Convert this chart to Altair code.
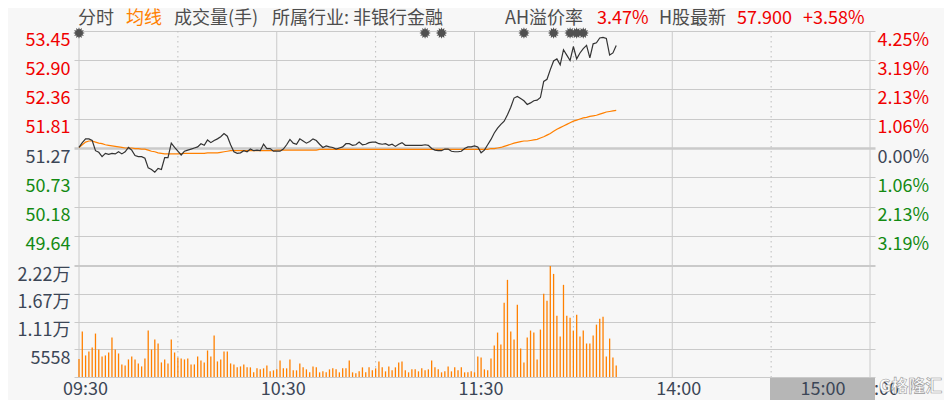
import json
import math
import altair as alt
import pandas as pd

# ---------------- data ----------------
prev_close = 51.27

price = [
    51.28, 51.37, 51.44, 51.44, 51.41, 51.22, 51.19, 51.11, 51.17, 51.15,
    51.17, 51.16, 51.20, 51.16, 51.20, 51.28, 51.23, 51.13, 51.11, 51.11,
    51.08, 50.90, 50.87, 50.82, 50.89, 50.87, 51.09, 51.09, 51.36, 51.28,
    51.21, 51.14, 51.21, 51.23, 51.25, 51.27, 51.29, 51.35, 51.32, 51.42,
    51.37, 51.41, 51.44, 51.48, 51.54, 51.49, 51.33, 51.20, 51.17, 51.18,
    51.22, 51.20, 51.25, 51.22, 51.23, 51.22, 51.34, 51.26, 51.26, 51.21,
    51.21, 51.21, 51.25, 51.33, 51.43, 51.36, 51.34, 51.44, 51.40, 51.36,
    51.39, 51.44, 51.41, 51.34, 51.28, 51.31, 51.29, 51.28, 51.25, 51.27,
    51.29, 51.35, 51.35, 51.32, 51.33, 51.38, 51.33, 51.34, 51.37, 51.38,
    51.38, 51.35, 51.34, 51.35, 51.32, 51.34, 51.30, 51.34, 51.37, 51.32,
    51.32, 51.32, 51.32, 51.32, 51.32, 51.33, 51.32, 51.26, 51.23, 51.22,
    51.22, 51.25, 51.25, 51.21, 51.20, 51.20, 51.21, 51.26, 51.29, 51.29,
    51.31, 51.29, 51.18, 51.23, 51.33, 51.43, 51.55, 51.64, 51.71, 51.77,
    51.89, 52.03, 52.20, 52.23, 52.19, 52.15, 52.08, 52.11, 52.15, 52.16,
    52.21, 52.51, 52.55, 52.73, 52.89, 52.93, 52.82, 53.10, 53.00, 52.90,
    53.16, 52.93, 53.04, 53.12, 53.18, 52.95, 53.21, 53.23, 53.32, 53.33,
    53.31, 53.00, 53.04, 53.18,
]

avg = [
    51.28, 51.33, 51.38, 51.40, 51.40, 51.38, 51.36, 51.35, 51.33, 51.32,
    51.31, 51.30, 51.29, 51.28, 51.27, 51.27, 51.27, 51.26, 51.26, 51.25,
    51.25, 51.23, 51.21, 51.20, 51.18, 51.17, 51.16, 51.16, 51.16, 51.16,
    51.16, 51.165, 51.17, 51.17, 51.17, 51.17, 51.17, 51.17, 51.17, 51.18,
    51.18, 51.18, 51.18, 51.19, 51.20, 51.21, 51.22, 51.22, 51.22, 51.22,
    51.22, 51.22, 51.22, 51.22, 51.22, 51.22, 51.22, 51.22, 51.22, 51.22,
    51.23, 51.23, 51.23, 51.23, 51.23, 51.23, 51.23, 51.23, 51.23, 51.23,
    51.23, 51.23, 51.23, 51.245, 51.245, 51.245, 51.245, 51.245, 51.245, 51.245,
    51.245, 51.245, 51.245, 51.245, 51.245, 51.245, 51.245, 51.245, 51.245, 51.245,
    51.245, 51.245, 51.245, 51.245, 51.245, 51.245, 51.245, 51.245, 51.245, 51.245,
    51.245, 51.245, 51.245, 51.245, 51.245, 51.245, 51.245, 51.245, 51.245, 51.245,
    51.245, 51.245, 51.245, 51.245, 51.245, 51.245, 51.245, 51.245, 51.245, 51.245,
    51.245, 51.245, 51.245, 51.245, 51.245, 51.26, 51.26, 51.27, 51.28, 51.30,
    51.32, 51.34, 51.36, 51.376, 51.39, 51.40, 51.40, 51.41, 51.42, 51.43,
    51.456, 51.48, 51.51, 51.54, 51.58, 51.62, 51.65, 51.68, 51.71, 51.74,
    51.77, 51.79, 51.81, 51.83, 51.84, 51.86, 51.87, 51.88, 51.90, 51.92,
    51.94, 51.95, 51.96, 51.97,
]

volume = [
    3590, 9100, 4320, 5110, 5910, 8700, 5510, 4120, 4320, 4910,
    7900, 5510, 4710, 2520, 2320, 3520, 4120, 3520, 2720, 2120,
    3720, 9300, 5510, 7500, 6700, 2920, 3520, 2720, 7500, 4910,
    3920, 3720, 3520, 3720, 2520, 2520, 4120, 3320, 2920, 5310,
    4120, 8300, 3120, 3520, 5110, 5110, 2720, 2520, 1930, 2120,
    2520, 1930, 1930, 930, 1730, 1530, 1730, 2320, 1130, 1330,
    1530, 3320, 1730, 1730, 3520, 1330, 1330, 2720, 1930, 1530,
    930, 2120, 1930, 930, 1130, 930, 1530, 1730, 1530, 930,
    1730, 1730, 3320, 930, 730, 1130, 1930, 930, 1930, 1330,
    1730, 3120, 1930, 1130, 2120, 1330, 1930, 2920, 3120, 1330,
    930, 1530, 1530, 1130, 1730, 1330, 1530, 3320, 1930, 1530,
    930, 1130, 2120, 1130, 1930, 1330, 1930, 930, 930, 1130,
    930, 4120, 3920, 1530, 1330, 3720, 6310, 8900, 6510, 14870,
    19460, 9100, 7500, 14480, 5710, 2920, 7900, 9300, 8900, 3520,
    9500, 16670, 15270, 22232, 20650, 12280, 8100, 18460, 12280, 11890,
    9300, 12480, 8100, 9300, 6710, 6710, 8300, 10490, 11690, 12090,
    4120, 7700, 3920, 2320,
]

event_idx = [0, 105, 110, 135, 144, 149, 151, 153]

price_ticks = [53.449, 52.904, 52.360, 51.815, 51.270, 50.725, 50.179, 49.636, 49.091]
volume_ticks = [22232, 16674, 11116, 5558, 0]
time_ticks = [0, 60, 120, 180, 240]
time_labels = ["09:30", "10:30", "11:30", "14:00", "15:00"]
grid_solid = [0, 60, 120, 180, 240]
grid_dotted = [30, 90, 150, 210]

header_texts = ["分时", "均线", "成交量(手)", "所属行业: 非银行金融",
                "AH溢价率", "3.47%", "H股最新", "57.900", "+3.58%"]

# ---------------- styling ----------------
W, H = 801, 346
FONT = "Noto Sans CJK SC"
FS = 18
RED = "#f00000"
GREEN = "#138a13"
NEUTRAL = "#3c4656"
GREYTXT = "#4d4d4d"
ORANGE = "#ff8000"
DARK = "#333333"
GRID = "#cacaca"
BG = "#f7f7f7"

df = pd.DataFrame({"idx": list(range(len(price))), "price": price,
                   "avg": avg, "volume": volume})

xscale = alt.Scale(domain=[0, 240], range=[0, W], nice=False, zero=False)
xaxis = alt.Axis(values=time_ticks,
                 labelExpr=f"{json.dumps(time_labels)}[indexof({json.dumps(time_ticks)}, datum.value)]",
                 grid=False, domain=False, ticks=False, tickSize=0,
                 labelFont=FONT, labelFontSize=FS, labelColor=NEUTRAL,
                 labelPadding=3, labelOffset=6, labelFlush=False,
                 labelOverlap=False, title=None)
X = alt.X("idx:Q", scale=xscale, axis=xaxis)

price_scale = alt.Scale(domain=[price_ticks[-1], price_ticks[0]], range=[234, 0],
                        nice=False, zero=False)
vol_scale = alt.Scale(domain=[0, volume_ticks[0]], range=[346, 235], nice=False, zero=False)

color_cond = {"condition": [{"test": f"datum.value > {prev_close + 0.01}", "value": RED},
                            {"test": f"datum.value < {prev_close - 0.01}", "value": GREEN}],
              "value": NEUTRAL}

price_axis = alt.Axis(orient="left", values=price_ticks,
                      labelExpr="datum.value < 49.2 ? '' : format(datum.value, '.2f')",
                      grid=True, gridColor=GRID,
                      gridWidth={"condition": {"test": f"abs(datum.value - {prev_close}) < 0.001",
                                               "value": 2.5}, "value": 1},
                      domain=False, ticks=False, tickSize=0,
                      labelFont=FONT, labelFontSize=FS, labelColor=color_cond,
                      labelAlign="right", labelBaseline="top", labelPadding=4,
                      labelFlush=False, labelOverlap=False, title=None)

pct_axis = alt.Axis(orient="right", values=price_ticks[:-1],
                    labelExpr=f"format(abs(datum.value / {prev_close} - 1) * 100, '.2f') + '%'",
                    grid=False, domain=False, ticks=False, tickSize=0,
                    labelFont=FONT, labelFontSize=FS, labelColor=color_cond,
                    labelAlign="left", labelBaseline="top", labelPadding=2,
                    labelFlush=False, labelOverlap=False, title=None)

vol_axis = alt.Axis(orient="left", values=volume_ticks,
                    labelExpr="datum.value == 0 ? '' : (datum.value >= 10000 ? format(datum.value / 10000, '.2f') + '万' : format(datum.value, 'd'))",
                    grid=True, gridColor=GRID, gridWidth=1,
                    domain=False, ticks=False, tickSize=0,
                    labelFont=FONT, labelFontSize=FS, labelColor=NEUTRAL,
                    labelAlign="right", labelBaseline="top", labelPadding=4,
                    labelFlush=False, labelOverlap=False, title=None)

# vertical grid lines
vsolid = alt.Chart(pd.DataFrame({"idx": grid_solid})).mark_rule(
    color=GRID, strokeWidth=1).encode(x=X)
vdotted = alt.Chart(pd.DataFrame({"idx": grid_dotted})).mark_rule(
    color="#bdbdbd", strokeWidth=1, strokeDash=[1.5, 3.5]).encode(x=X)

base = alt.Chart(df)

lines = base.transform_fold(["avg", "price"], as_=["key", "value"]).mark_line(
    strokeWidth=1.2, interpolate="linear").encode(
    x=X,
    y=alt.Y("value:Q", scale=price_scale, axis=price_axis),
    color=alt.Color("key:N", scale=alt.Scale(domain=["avg", "price"], range=[ORANGE, DARK]),
                    legend=None),
)

pct = base.mark_line(opacity=0).encode(
    x=X, y=alt.Y("price:Q", scale=price_scale, axis=pct_axis))

bars = base.mark_bar(size=1.3, color=ORANGE).encode(
    x=X, y=alt.Y("volume:Q", scale=vol_scale, axis=vol_axis))

# event star markers along the top
pts = []
for k in range(24):
    r = 1.0 if k % 2 == 0 else 0.62
    a = math.pi * k / 12
    pts.append(f"{r * math.cos(a):.3f},{r * math.sin(a):.3f}")
STAR = "M" + " L".join(pts) + " Z"
stars = alt.Chart(pd.DataFrame({"idx": event_idx})).mark_point(
    shape=STAR, filled=True, size=130, color="#505050", opacity=1).encode(
    x=X, y=alt.value(2))

one = alt.Data(values=[{}])


def label(text, x, y, color, align="left", size=FS):
    return alt.Chart(one).mark_text(
        text=text, align=align, baseline="middle", font=FONT, fontSize=size,
        color=color).encode(x=alt.value(x), y=alt.value(y))


header_x = [4, 52, 100, 198, 431, 523, 585, 663, 729]
header_c = [GREYTXT, ORANGE, GREYTXT, GREYTXT, GREYTXT, RED, GREYTXT, RED, RED]
headers = [label(t, x, -12, c) for t, x, c in zip(header_texts, header_x, header_c)]

# highlighted end-time box and watermark
box = alt.Chart(one).mark_rect(color="#b6b6b6").encode(
    x=alt.value(696), x2=alt.value(801), y=alt.value(347), y2=alt.value(380))
box_text = label(time_labels[-1], 749, 359, NEUTRAL, align="center")
wm = alt.Chart(one).mark_text(
    text="G格隆汇", align="left", baseline="middle", font=FONT, fontSize=17,
    fontWeight="bold", color="#ffffff", stroke="#9a9a9a", strokeWidth=0.6).encode(
    x=alt.value(805), y=alt.value(356))

chart = alt.layer(
    vsolid, vdotted, lines, pct, bars, stars, box, box_text, wm, *headers
).resolve_scale(y="independent").properties(
    width=W, height=H,
    autosize=alt.AutoSizeParams(type="none"),
    padding={"left": 66, "top": 23, "right": 69, "bottom": 23},
).configure(background=BG).configure_view(strokeWidth=0)

chart.save("out.html", embed_options={"renderer": "svg", "actions": False})
